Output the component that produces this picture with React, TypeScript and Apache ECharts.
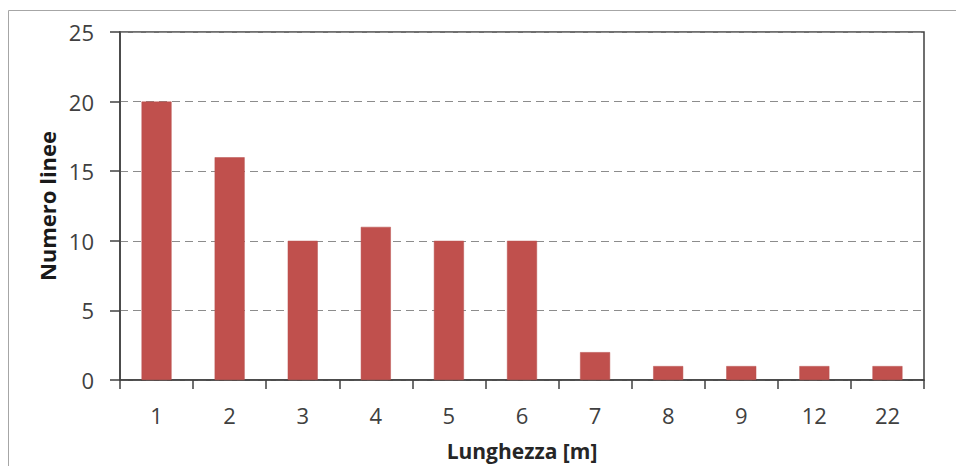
import React, { useEffect, useRef } from "react";
import * as echarts from "echarts";

const categories = ["1", "2", "3", "4", "5", "6", "7", "8", "9", "12", "22"];
const values = [20, 16, 10, 11, 10, 10, 2, 1, 1, 1, 1];
const xTitle = "Lunghezza [m]";
const yTitle = "Numero linee";

export default function App() {
  const ref = useRef<HTMLDivElement>(null);
  useEffect(() => {
    const chart = echarts.init(ref.current!, null, { renderer: "svg" });
    const font = "'Open Sans', 'Noto Sans', sans-serif";
    chart.setOption({
      animation: false,
      backgroundColor: "#ffffff",
      graphic: [
        {
          type: "rect",
          shape: { x: 8.5, y: 10.5, width: 1000, height: 500 },
          style: { fill: "none", stroke: "#a6a6a6", lineWidth: 1 },
          silent: true,
          z: -1,
        },
      ],
      grid: {
        left: 120,
        top: 32,
        right: 32,
        bottom: 84,
        show: true,
        borderColor: "#404040",
        borderWidth: 1.5,
      },
      xAxis: {
        type: "category",
        data: categories,
        boundaryGap: true,
        name: xTitle,
        nameLocation: "middle",
        nameGap: 60,
        nameTextStyle: { fontFamily: font, fontSize: 21, fontWeight: "bold", color: "#262626" },
        axisLine: { lineStyle: { color: "#404040", width: 1.5 } },
        axisTick: { show: true, length: 9, alignWithLabel: false, lineStyle: { color: "#404040", width: 1.5 } },
        axisLabel: { fontFamily: font, fontSize: 22, color: "#404040", margin: 24 },
      },
      yAxis: {
        type: "value",
        min: 0,
        max: 25,
        interval: 5,
        name: yTitle,
        nameLocation: "middle",
        nameGap: 62,
        nameRotate: 90,
        nameTextStyle: { fontFamily: font, fontSize: 22, fontWeight: "bold", color: "#1a1a1a" },
        axisLine: { show: true, lineStyle: { color: "#404040", width: 1.5 } },
        axisTick: { show: true, length: 10, lineStyle: { color: "#404040", width: 1.5 } },
        axisLabel: { fontFamily: font, fontSize: 22, color: "#404040", margin: 26 },
        splitLine: { show: true, lineStyle: { color: "#8c8c8c", type: [8, 5], width: 1.2 } },
      },
      series: [
        {
          type: "bar",
          data: values,
          barWidth: 30,
          itemStyle: { color: "#C0504D", borderColor: "#B9504E", borderWidth: 0.5 },
        },
      ],
    });
    return () => chart.dispose();
  }, []);
  return (
    <div
      ref={ref}
      style={{ position: "fixed", left: 0, top: 0, width: 956, height: 466 }}
    />
  );
}
